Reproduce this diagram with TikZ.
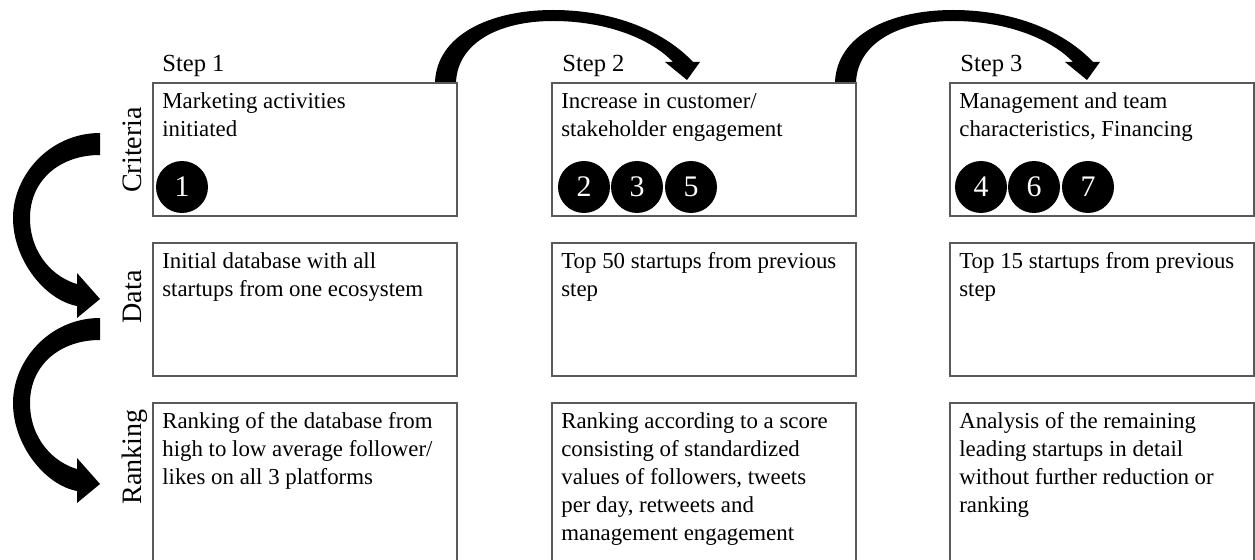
\documentclass[tikz,border=0pt]{standalone}
\usepackage{fontspec}
\setmainfont{Liberation Serif}
\begin{document}
\begin{tikzpicture}[x=0.02cm,y=-0.02cm,
  box/.style={draw=black!65, line width=1.1pt, rectangle, inner sep=0, anchor=north west, minimum width=6.08cm, minimum height=2.66cm},
  tallbox/.style={box, minimum height=3.5cm},
  txt/.style={anchor=north west, inner sep=0, align=left, font=\fontsize{13}{15.9}\selectfont},
  steplab/.style={anchor=base west, inner sep=0, font=\fontsize{14}{16}\selectfont},
  rowlab/.style={rotate=90, anchor=base, inner sep=0, font=\fontsize{16}{19}\selectfont},
  numc/.style={circle, fill=black, text=white, minimum size=1.04cm, inner sep=0, font=\fontsize{17}{17}\selectfont},
  pics/toparrow/.style={code={
    \fill (0,0) .. controls (2,-47) and (55,-72) .. (118,-72)
      .. controls (180,-72) and (230,-50) .. (258,-20)
      -- (265,-20) -- (252,-2) -- (230,-20) -- (238,-20)
      .. controls (215,-44) and (170,-61) .. (118,-61)
      .. controls (65,-61) and (23,-40) .. (21,0) -- cycle;
  }},
  pics/leftarrow/.style={code={
    \fill (0,0) .. controls (-50,0) and (-87,42) .. (-87,85)
      .. controls (-87,127) and (-55,167) .. (-23,173)
      -- (-23,185) -- (0,166) -- (-23,140) -- (-23,151)
      .. controls (-45,145) and (-70,122) .. (-70,85)
      .. controls (-70,47) and (-40,22) .. (0,22) -- cycle;
  }}
]
\useasboundingbox (0,0) rectangle (1255,560);
\clip (0,0) rectangle (1255,560);

% boxes
\node[box] (b11) at (152,82) {};
\node[box] (b12) at (551,82) {};
\node[box] (b13) at (949,82) {};
\node[box] (b21) at (152,242) {};
\node[box] (b22) at (551,242) {};
\node[box] (b23) at (949,242) {};
\node[tallbox] (b31) at (152,402) {};
\node[tallbox] (b32) at (551,402) {};
\node[tallbox] (b33) at (949,402) {};

% step labels
\node[steplab] (s1) at (162,72) {Step 1};
\node[steplab] (s2) at (562,72) {Step 2};
\node[steplab] (s3) at (960,72) {Step 3};

% row labels
\node[rowlab] (lc) at (141,150) {Criteria};
\node[rowlab] (ld) at (141,297) {Data};
\node[rowlab] (lr) at (141,457) {Ranking};

% texts
\node[txt] (t11) at (162,89) {\strut Marketing activities\\initiated};
\node[txt] (t12) at (561,89) {\strut Increase in customer/\\stakeholder engagement};
\node[txt] (t13) at (959,89) {\strut Management and team\\characteristics, Financing};
\node[txt] (t21) at (162,249) {\strut Initial database with all\\startups from one ecosystem};
\node[txt] (t22) at (561,249) {\strut Top 50 startups from previous\\step};
\node[txt] (t23) at (959,249) {\strut Top 15 startups from previous\\step};
\node[txt] (t31) at (162,409) {\strut Ranking of the database from\\high to low average follower/\\likes on all 3 platforms};
\node[txt] (t32) at (561,409) {\strut Ranking according to a score\\consisting of standardized\\values of followers, tweets\\per day, retweets and\\management engagement};
\node[txt] (t33) at (959,409) {\strut Analysis of the remaining\\leading startups in detail\\without further reduction or\\ranking};

% numbered circles
\node[numc] (n1) at (182,187) {1};
\node[numc] (n2) at (584,187) {2};
\node[numc] (n3) at (637,187) {3};
\node[numc] (n5) at (691,187) {5};
\node[numc] (n4) at (981,187) {4};
\node[numc] (n6) at (1034,187) {6};
\node[numc] (n7) at (1088,187) {7};

% arrows
\pic at (435,82) {toparrow};
\pic at (835,82) {toparrow};
\pic at (100,133) {leftarrow};
\pic at (100,318) {leftarrow};
\end{tikzpicture}
\end{document}
